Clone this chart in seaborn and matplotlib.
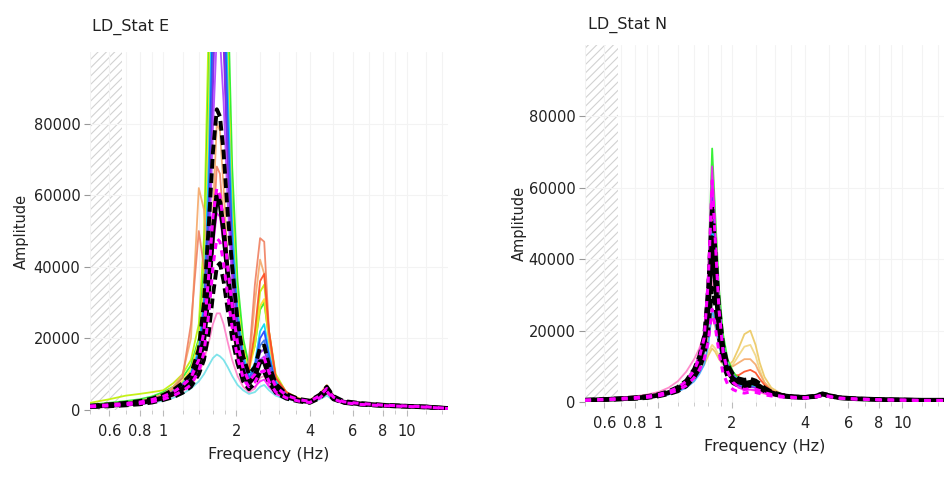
import numpy as np
import pandas as pd
import matplotlib
matplotlib.use("Agg")
import matplotlib.pyplot as plt
from matplotlib.ticker import FixedLocator, NullFormatter
import seaborn as sns

# ---------------- data (amplitudes in thousands) ----------------
FREQ = [0.5, 0.6, 0.7, 0.8, 0.9, 1.0, 1.1, 1.2, 1.3, 1.4, 1.47, 1.54, 1.6, 1.66,
        1.71, 1.77, 1.84, 1.92, 2.02, 2.13, 2.25, 2.38, 2.5, 2.6, 2.72, 2.9, 3.2,
        3.6, 4.0, 4.4, 4.7, 5.0, 5.5, 6.5, 8, 10, 12, 15]

XTICKS = [0.6, 0.8, 1, 2, 4, 6, 8, 10]
XTICK_LABELS = ["0.6", "0.8", "1", "2", "4", "6", "8", "10"]
YTICKS = [0, 20000, 40000, 60000, 80000]
YTICK_LABELS = ["0", "20000", "40000", "60000", "80000"]
TITLES = ["LD_Stat E", "LD_Stat N"]

# --- E component: individual windows
E_yellowgreen = [2.0, 3.0, 4.0, 4.5, 5.0, 5.5, 7.5, 10, 14, 24, 48, 110, 175, 210, 195, 160, 105, 60, 32, 18, 12, 20, 33, 35, 22, 10, 5, 3.3, 2.6, 4.2, 6, 3.8, 2.4, 1.8, 1.3, 1.1, 0.9, 0.4]
E_green = [1.5, 2.0, 2.5, 3.0, 3.8, 5.0, 6.5, 9, 12.5, 20, 40, 95, 162, 205, 205, 170, 118, 68, 36, 20, 12.5, 18, 28, 30, 20, 9, 5, 3, 2.5, 4, 5.5, 3.5, 2.3, 1.7, 1.3, 1.0, 0.8, 0.4]
E_yellow = [1.3, 1.7, 2.1, 2.6, 3.3, 4.4, 6.0, 8, 11.5, 19, 36, 85, 150, 190, 185, 150, 98, 56, 30, 17, 11, 18, 29, 31, 19, 8.5, 4.8, 3.1, 2.5, 4, 5.8, 3.6, 2.3, 1.7, 1.3, 1.05, 0.85, 0.4]
E_cyan = [1.2, 1.6, 2.0, 2.5, 3.2, 4.2, 5.5, 7.5, 10.5, 17, 31, 70, 130, 170, 168, 138, 90, 52, 28, 15.5, 10, 13, 22, 24, 16, 8, 4.5, 3, 2.4, 3.8, 5.2, 3.3, 2.2, 1.6, 1.2, 1.0, 0.8, 0.4]
E_blue = [1.1, 1.4, 1.8, 2.2, 2.8, 3.8, 5.0, 7, 10, 16, 28, 60, 112, 150, 148, 122, 80, 46, 25, 14, 9, 12, 20, 22, 15, 7.5, 4.3, 2.9, 2.3, 3.8, 5.5, 3.4, 2.2, 1.6, 1.2, 1.0, 0.8, 0.4]
E_royal = [1.1, 1.4, 1.75, 2.15, 2.8, 3.7, 4.9, 6.7, 9.8, 15, 26, 52, 98, 135, 132, 108, 72, 42, 23, 13, 8.5, 11, 18, 19.5, 13.5, 7, 4.2, 2.9, 2.3, 3.8, 5.5, 3.4, 2.2, 1.6, 1.2, 1.0, 0.8, 0.4]
E_purple = [1.0, 1.3, 1.7, 2.1, 2.7, 3.6, 4.8, 6.5, 9.5, 14.5, 24, 48, 90, 125, 125, 102, 68, 40, 22, 12.5, 8, 10, 16, 17, 12, 6.5, 4, 2.8, 2.2, 3.7, 5.3, 3.3, 2.1, 1.6, 1.2, 1.0, 0.8, 0.4]
E_violet = [1.0, 1.3, 1.6, 2.0, 2.6, 3.5, 4.6, 6.2, 9, 14, 22, 42, 78, 105, 104, 86, 58, 35, 20, 11.5, 7.5, 9.5, 14, 15, 11, 6.2, 3.9, 2.7, 2.2, 3.6, 5.4, 3.3, 2.1, 1.6, 1.2, 1.0, 0.8, 0.4]
E_orange = [1.2, 1.5, 2.0, 2.5, 3.2, 4.5, 6.5, 10, 20, 62, 56, 38, 55, 80, 78, 62, 42, 27, 16, 10.5, 12, 30, 42, 38, 20, 9, 5, 3.2, 2.8, 4.5, 7, 4, 2.5, 2, 1.5, 1.2, 1.0, 0.5]
E_salmon = [1.0, 1.4, 1.8, 2.3, 3.0, 4.0, 6, 9, 24, 50, 40, 34, 48, 68, 66, 52, 36, 23, 14, 9.5, 14, 35, 48, 47, 22, 9, 5, 3, 2.6, 4.5, 6.5, 4, 2.5, 1.9, 1.4, 1.1, 0.9, 0.4]
E_red = [1.1, 1.4, 1.8, 2.2, 2.8, 3.8, 5.2, 7.2, 10, 15, 25, 52, 98, 135, 132, 108, 70, 40, 22, 13, 11, 22, 36, 38, 22, 9, 5, 3.1, 2.5, 4, 5.8, 3.6, 2.3, 1.7, 1.3, 1.05, 0.85, 0.4]
E_lightcyan = [0.8, 1.0, 1.3, 1.6, 2.0, 2.6, 3.4, 4.5, 6, 8, 10, 12.5, 14.5, 15.5, 15, 14, 12, 9.5, 7, 5.5, 4.5, 5, 6.5, 7, 5.5, 4, 3, 2.4, 2.1, 3, 4, 2.8, 2, 1.5, 1.1, 0.9, 0.7, 0.3]
E_pink = [0.9, 1.1, 1.4, 1.8, 2.2, 3.0, 4.0, 5.2, 7, 10, 14, 19, 24, 27, 27, 24, 19, 14, 9.5, 6.5, 5, 6, 9, 9.5, 7, 4.5, 3.2, 2.5, 2.1, 3.4, 4.8, 3.1, 2.1, 1.6, 1.2, 1.0, 0.8, 0.4]
E_magenta = [0.9, 1.2, 1.5, 1.9, 2.4, 3.2, 4.2, 5.5, 8, 12, 18, 31, 45, 55, 54, 46, 35, 24, 14.5, 8.5, 6, 6.5, 8, 8.5, 6.5, 4.5, 3.3, 2.5, 2.1, 3.5, 5, 3.2, 2.1, 1.6, 1.2, 1.0, 0.8, 0.4]
# --- E component: statistics
E_mean = [1.0, 1.3, 1.6, 2.0, 2.6, 3.4, 4.5, 6, 8, 13, 20, 34, 50, 60, 58, 50, 38, 27, 17, 10.5, 7.5, 9.5, 13.5, 13.5, 9.5, 5.8, 3.8, 2.7, 2.3, 3.8, 5.8, 3.4, 2.2, 1.7, 1.3, 1.05, 0.85, 0.4]
E_dash_hi = [1.2, 1.6, 2.0, 2.5, 3.2, 4.2, 5.6, 7.5, 10, 17, 30, 52, 72, 84, 82, 72, 55, 40, 25, 15, 10, 12, 17.5, 18, 12.5, 7.3, 4.5, 3.1, 2.6, 4.3, 6.5, 3.9, 2.5, 1.9, 1.45, 1.15, 0.95, 0.45]
E_dash_lo = [0.8, 1.05, 1.3, 1.6, 2.1, 2.8, 3.6, 4.8, 6.5, 10, 14, 22, 32, 40, 41, 36, 28, 20, 13, 8, 5.8, 7.5, 10.5, 10.5, 7.8, 4.8, 3.2, 2.4, 2.0, 3.3, 5.1, 3.0, 2.0, 1.5, 1.15, 0.95, 0.75, 0.35]
E_mag_hi = [1.1, 1.45, 1.8, 2.2, 2.9, 3.8, 5.0, 6.8, 9, 14, 22, 38, 54, 62, 60, 52, 40, 29, 18.5, 11.5, 8, 10, 14, 14.5, 10.5, 6.5, 4.1, 2.9, 2.4, 4, 6, 3.6, 2.3, 1.8, 1.35, 1.1, 0.9, 0.4]
E_mag_lo = [0.9, 1.15, 1.45, 1.8, 2.3, 3.0, 4.0, 5.3, 7, 11, 16, 27, 40, 48, 47, 41, 32, 23, 14.5, 9, 6.5, 7.8, 10.5, 11, 8, 5, 3.4, 2.5, 2.1, 3.4, 5.2, 3.1, 2.05, 1.55, 1.2, 1.0, 0.8, 0.37]

# --- N component: individual windows
N_green = [0.6, 0.8, 1.0, 1.3, 1.7, 2.2, 3.0, 4.2, 6.2, 9.5, 13, 19, 36, 71, 52, 32, 19, 12, 8.5, 6.5, 5.5, 5.8, 5.2, 4.5, 3.6, 2.7, 1.8, 1.4, 1.3, 1.6, 2.2, 1.8, 1.2, 0.9, 0.7, 0.6, 0.5, 0.5]
N_magenta = [0.5, 0.7, 0.95, 1.2, 1.6, 2.1, 2.9, 4.0, 6.0, 9.5, 13.5, 20, 37, 66, 48, 28, 15, 9, 5.5, 4, 3.4, 3.5, 3.3, 3, 2.5, 2, 1.6, 1.3, 1.2, 1.5, 2, 1.6, 1.1, 0.85, 0.65, 0.55, 0.45, 0.45]
N_blue = [0.5, 0.7, 0.9, 1.15, 1.5, 1.9, 2.6, 3.6, 5.2, 8, 11, 16, 31, 58, 44, 27, 16, 10.5, 7.5, 6, 5.2, 5.3, 4.8, 4.2, 3.4, 2.5, 1.7, 1.35, 1.25, 1.55, 2.1, 1.7, 1.15, 0.85, 0.65, 0.55, 0.45, 0.45]
N_purple = [0.45, 0.65, 0.85, 1.1, 1.45, 1.85, 2.5, 3.5, 5.0, 7.8, 11, 16.5, 33, 62, 46, 27, 15, 9.5, 6, 4.6, 4, 4.2, 4, 3.6, 2.9, 2.3, 1.6, 1.3, 1.2, 1.5, 2, 1.65, 1.1, 0.8, 0.6, 0.5, 0.45, 0.4]
N_cyan = [0.45, 0.6, 0.8, 1.0, 1.3, 1.7, 2.3, 3.1, 4.4, 6.8, 9.5, 14, 27, 50, 40, 25, 15, 10, 7, 5.2, 4.5, 4.6, 4.3, 3.8, 3.0, 2.4, 1.7, 1.3, 1.2, 1.5, 2.1, 1.7, 1.1, 0.8, 0.6, 0.5, 0.45, 0.4]
N_lightblue = [0.4, 0.55, 0.75, 0.95, 1.2, 1.6, 2.1, 2.9, 4.0, 5.8, 7.8, 10.5, 16, 26, 22, 16, 11, 8, 6, 4.8, 4.2, 4.3, 4.1, 3.6, 2.9, 2.3, 1.6, 1.25, 1.15, 1.45, 2, 1.6, 1.1, 0.8, 0.6, 0.5, 0.4, 0.4]
N_yellowA = [0.5, 0.7, 0.9, 1.1, 1.4, 1.8, 2.4, 3.2, 4.5, 6.5, 8.5, 10.5, 13, 15, 14, 12, 10.5, 10, 11.5, 15, 19, 20, 16, 11, 7, 4, 2.2, 1.6, 1.4, 1.8, 2.4, 1.9, 1.3, 0.9, 0.7, 0.6, 0.5, 0.5]
N_yellowB = [0.5, 0.65, 0.85, 1.05, 1.35, 1.75, 2.3, 3.1, 4.3, 6.2, 8.3, 11, 14, 16, 15, 13, 11, 9.8, 10.5, 13, 15.5, 16, 13, 9, 5.5, 3.2, 2, 1.5, 1.35, 1.7, 2.3, 1.8, 1.25, 0.9, 0.7, 0.6, 0.5, 0.5]
N_orange = [0.5, 0.7, 0.9, 1.15, 1.5, 1.9, 2.6, 3.5, 5, 7.5, 10, 13.5, 18, 24, 21, 16, 12, 10, 10, 11, 12, 12, 10.5, 8, 5.5, 3.4, 2.1, 1.5, 1.35, 1.7, 2.3, 1.8, 1.25, 0.9, 0.7, 0.6, 0.5, 0.5]
N_red = [0.5, 0.7, 0.9, 1.15, 1.5, 1.9, 2.5, 3.4, 4.9, 7.4, 10.5, 15, 28, 52, 40, 24, 14, 9.5, 7.5, 7.5, 8.5, 9, 8.2, 6.5, 4.8, 3.1, 1.9, 1.4, 1.3, 1.6, 2.2, 1.75, 1.2, 0.9, 0.7, 0.6, 0.5, 0.5]
N_pink = [0.6, 0.9, 1.2, 1.6, 2.1, 2.8, 4.0, 5.8, 8.5, 12, 15, 19, 25, 34, 30, 22, 14, 9, 6, 4.5, 3.6, 3.4, 3.1, 2.7, 2.3, 1.9, 1.5, 1.25, 1.15, 1.4, 1.9, 1.55, 1.1, 0.8, 0.6, 0.5, 0.45, 0.4]
# --- N component: statistics
N_mean = [0.5, 0.7, 0.9, 1.1, 1.4, 1.9, 2.6, 3.6, 5.2, 8, 11, 16, 26, 46, 34, 21, 13, 8.5, 6.5, 5.6, 5.2, 5.5, 5.1, 4.4, 3.5, 2.6, 1.8, 1.4, 1.3, 1.6, 2.2, 1.8, 1.2, 0.9, 0.7, 0.6, 0.5, 0.5]
N_dash_hi = [0.6, 0.8, 1.05, 1.3, 1.65, 2.2, 3.0, 4.2, 6.0, 9.2, 12.8, 18.5, 32, 55, 43, 27, 16, 10.5, 7.8, 6.6, 6.2, 6.5, 6, 5.2, 4, 2.9, 2, 1.55, 1.4, 1.75, 2.4, 1.95, 1.3, 0.95, 0.75, 0.65, 0.55, 0.55]
N_dash_lo = [0.4, 0.6, 0.75, 0.9, 1.15, 1.6, 2.2, 3.0, 4.4, 6.8, 9.2, 13, 20, 32, 27, 18, 10.5, 7, 5.3, 4.5, 4.2, 4.6, 4.3, 3.8, 3.0, 2.3, 1.6, 1.25, 1.2, 1.45, 2.0, 1.65, 1.1, 0.85, 0.65, 0.55, 0.45, 0.45]
N_mag_hi = [0.55, 0.75, 1.0, 1.25, 1.6, 2.1, 2.9, 4.0, 5.8, 8.8, 12.3, 18, 34, 62, 45, 26, 14, 8.5, 5.5, 4.2, 3.5, 3.8, 3.6, 3.2, 2.6, 2.1, 1.6, 1.3, 1.2, 1.5, 2, 1.6, 1.1, 0.85, 0.65, 0.55, 0.45, 0.45]
N_mag_lo = [0.45, 0.62, 0.8, 1.0, 1.3, 1.7, 2.4, 3.3, 4.6, 6.8, 9, 12, 17, 26, 21, 14, 8, 5, 3.5, 2.8, 2.5, 2.8, 2.7, 2.4, 2.0, 1.7, 1.4, 1.2, 1.1, 1.35, 1.8, 1.5, 1.05, 0.8, 0.6, 0.5, 0.4, 0.4]

E_WINDOWS = {"yellowgreen": E_yellowgreen, "green": E_green, "yellow": E_yellow,
             "cyan": E_cyan, "orange": E_orange, "salmon": E_salmon,
             "red": E_red, "lightcyan": E_lightcyan, "pink": E_pink,
             "blue": E_blue, "royal": E_royal, "purple": E_purple,
             "violet": E_violet, "magenta": E_magenta}
N_WINDOWS = {"yellowA": N_yellowA, "yellowB": N_yellowB, "orange": N_orange,
             "red": N_red, "pink": N_pink, "lightblue": N_lightblue, "cyan": N_cyan,
             "green": N_green, "blue": N_blue, "purple": N_purple, "magenta": N_magenta}
PALETTE = {"yellowgreen": "#bff000", "green": "#22f022", "yellow": "#ffe020",
           "cyan": "#00d8f0", "blue": "#2040ff", "royal": "#3070e8",
           "purple": "#8a20f0", "violet": "#b040ff",
           "orange": "#f5a868", "salmon": "#f08060", "red": "#ff4a20",
           "lightcyan": "#70e0e8", "pink": "#ff80c8", "magenta": "#ff10ff",
           "yellowA": "#ecc860", "yellowB": "#f2d680", "lightblue": "#40a0ff"}

for _series in list(E_WINDOWS.values()) + list(N_WINDOWS.values()):
    assert len(_series) == len(FREQ)

# ---------------- figure ----------------
sns.set_theme(style="white")
plt.rcParams["font.family"] = ["DejaVu Sans"]
plt.rcParams["hatch.color"] = "#d2d2d2"
plt.rcParams["hatch.linewidth"] = 0.8

fig = plt.figure(figsize=(9.44, 4.78), dpi=100)
axE = fig.add_axes([90 / 944, 1 - 410 / 478, 358 / 944, 358 / 478])
axN = fig.add_axes([585 / 944, 1 - 402 / 478, 359 / 944, 357 / 478])

TEXT = "#222222"


def draw(ax, windows, stats, title, title_x, title_y, ylab_x):
    rows = []
    for name, vals in windows.items():
        for f, a in zip(FREQ, vals):
            rows.append({"freq": f, "amp": a * 1000, "curve": name})
    df = pd.DataFrame(rows)
    ax.axvspan(0.5, 0.68, facecolor="none", edgecolor="#d2d2d2", hatch="////",
               lw=0, zorder=0)
    sns.lineplot(data=df, x="freq", y="amp", hue="curve", palette=PALETTE,
                 estimator=None, sort=False, legend=False, linewidth=1.3,
                 alpha=0.9, ax=ax, zorder=2)
    mean, dhi, dlo, mhi, mlo = stats
    for vals in stats:
        assert len(vals) == len(FREQ)
    for vals in (dhi, dlo):
        sns.lineplot(x=FREQ, y=np.array(vals) * 1000, color="black", lw=2.8,
                     linestyle=(0, (2.5, 1.2)), ax=ax, zorder=4)
    sns.lineplot(x=FREQ, y=np.array(mean) * 1000, color="black", lw=3.4,
                 ax=ax, zorder=5)
    for vals in (mhi, mlo):
        sns.lineplot(x=FREQ, y=np.array(vals) * 1000, color="#ff00ff", lw=2.2,
                     linestyle=(0, (2, 2)), ax=ax, zorder=6)

    ax.set_xscale("log")
    ax.set_xlim(0.5, 14.8)
    ax.set_ylim(0, 100000)
    ax.xaxis.set_major_locator(FixedLocator(XTICKS))
    ax.set_xticklabels(XTICK_LABELS)
    ax.xaxis.set_minor_locator(FixedLocator([0.5, 0.7, 0.9, 1.2, 1.4, 1.6, 1.8,
                                             2.5, 3, 3.5, 5, 7, 9, 12, 14]))
    ax.xaxis.set_minor_formatter(NullFormatter())
    ax.set_yticks(YTICKS)
    ax.set_yticklabels(YTICK_LABELS)
    ax.tick_params(axis="both", which="major", labelsize=10.5, labelcolor=TEXT,
                   length=4, width=0.8, direction="out", pad=3)
    ax.tick_params(axis="x", which="major", color="#bbbbbb", pad=6, bottom=True)
    ax.tick_params(axis="x", which="minor", color="#cccccc", length=3,
                   width=0.7, bottom=True)
    ax.tick_params(axis="y", which="major", color="#999999", left=True)
    for s in ax.spines.values():
        s.set_visible(False)
    ax.grid(True, which="both", axis="x", color="#f3f3f3", lw=0.8)
    ax.grid(True, which="major", axis="y", color="#f3f3f3", lw=0.8)
    ax.set_xlabel("Frequency (Hz)", fontsize=11.5, color=TEXT, labelpad=6)
    ax.set_ylabel("Amplitude", fontsize=10.5, color=TEXT)
    ax.yaxis.set_label_coords(ylab_x, 0.5)
    fig.text(title_x, title_y, title, fontsize=11.5, color=TEXT, va="center",
             ha="left")


draw(axE, E_WINDOWS, (E_mean, E_dash_hi, E_dash_lo, E_mag_hi, E_mag_lo),
     TITLES[0], 92 / 944, 1 - 27 / 478, -0.17)
draw(axN, N_WINDOWS, (N_mean, N_dash_hi, N_dash_lo, N_mag_hi, N_mag_lo),
     TITLES[1], 588 / 944, 1 - 25 / 478, -0.162)

fig.savefig("out.png", dpi=100)
